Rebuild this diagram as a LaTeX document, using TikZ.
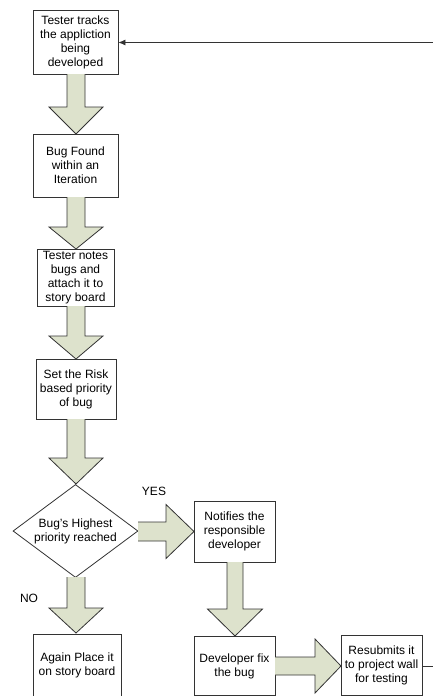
\documentclass[tikz,border=0pt]{standalone}
\usepackage{fontspec}
\setmainfont{Liberation Sans}
\usetikzlibrary{arrows.meta,shapes.geometric}
\definecolor{arrfill}{HTML}{DDE2CC}
\definecolor{edge}{HTML}{333333}
\newcommand{\barrowdown}[5]{% cx, shafthalf, headhalf, y0, y1, (tip in #5?) 
}
\begin{document}
\begin{tikzpicture}[x=1pt,y=-1pt,
  box/.style={draw=edge,line width=0.8pt,fill=white,inner sep=0pt,align=center,
    font=\fontsize{12}{14}\selectfont},
  blk/.style={draw=edge,line width=0.8pt,fill=arrfill,line join=miter},
  lbl/.style={font=\fontsize{12}{14}\selectfont,inner sep=0pt}]
\useasboundingbox (0,0) rectangle (433,696);
% boxes
\node[box,minimum width=85pt,minimum height=64pt] (b1) at (75.5,42) {Tester tracks\\the appliction\\being\\developed};
\node[box,minimum width=85pt,minimum height=63pt] (b2) at (75.5,165.5) {Bug Found\\within an\\Iteration};
\node[box,minimum width=77pt,minimum height=57pt] (b3) at (75.5,277.5) {Tester notes\\bugs and\\attach it to\\story board};
\node[box,minimum width=80pt,minimum height=60pt] (b4) at (76,389) {Set the Risk\\based priority\\of bug};
\node[box,diamond,aspect=1.34,minimum width=125pt,minimum height=93pt] (d) at (75.5,531) {Bug's Highest\\priority reached};
\node[box,minimum width=81pt,minimum height=61pt] (b5) at (234.5,531.5) {Notifies the\\responsible\\developer};
\node[box,minimum width=81pt,minimum height=59pt] (b6) at (234.5,666) {Developer fix\\the bug};
\node[box,minimum width=88pt,minimum height=62pt] (b7) at (77,665) {Again Place it\\on story board};
\node[box,minimum width=81pt,minimum height=60pt] (b8) at (381.5,665.5) {Resubmits it\\to project wall\\for testing};
% labels
\node[lbl] (yes) at (154,491) {YES};
\node[lbl] (no) at (29,598) {NO};
% block arrows (down)
\foreach \cx/\sh/\hh/\ya/\yb/\yt in {76/9/27/74/107/134, 76/9/27/197/227/249, 76/9/27/306/336/359, 76/9/27/419/458/484, 76/9/27/577/608/633, 235/8/27.5/562/609/636}{
  \draw[blk] (\cx-\sh,\ya) -- (\cx-\sh,\yb) -- (\cx-\hh,\yb) -- (\cx,\yt) -- (\cx+\hh,\yb) -- (\cx+\sh,\yb) -- (\cx+\sh,\ya);
}
% block arrows (right)
\foreach \cy/\sh/\hh/\xa/\xb/\xt in {531.5/9.5/27/138/166/194, 666/9/27/275/315/341}{
  \draw[blk] (\xa,\cy-\sh) -- (\xb,\cy-\sh) -- (\xb,\cy-\hh) -- (\xt,\cy) -- (\xb,\cy+\hh) -- (\xb,\cy+\sh) -- (\xa,\cy+\sh);
}
% connectors
\coordinate (r1) at (433,42.5);
\coordinate (r2) at (433,666);
\draw[edge,line width=0.8pt,-{Latex[length=7pt,width=6pt]}] (r1) -- (b1.east |- r1);
\draw[edge,line width=0.8pt] (b8.east |- r2) -- (r2);
\end{tikzpicture}
\end{document}
